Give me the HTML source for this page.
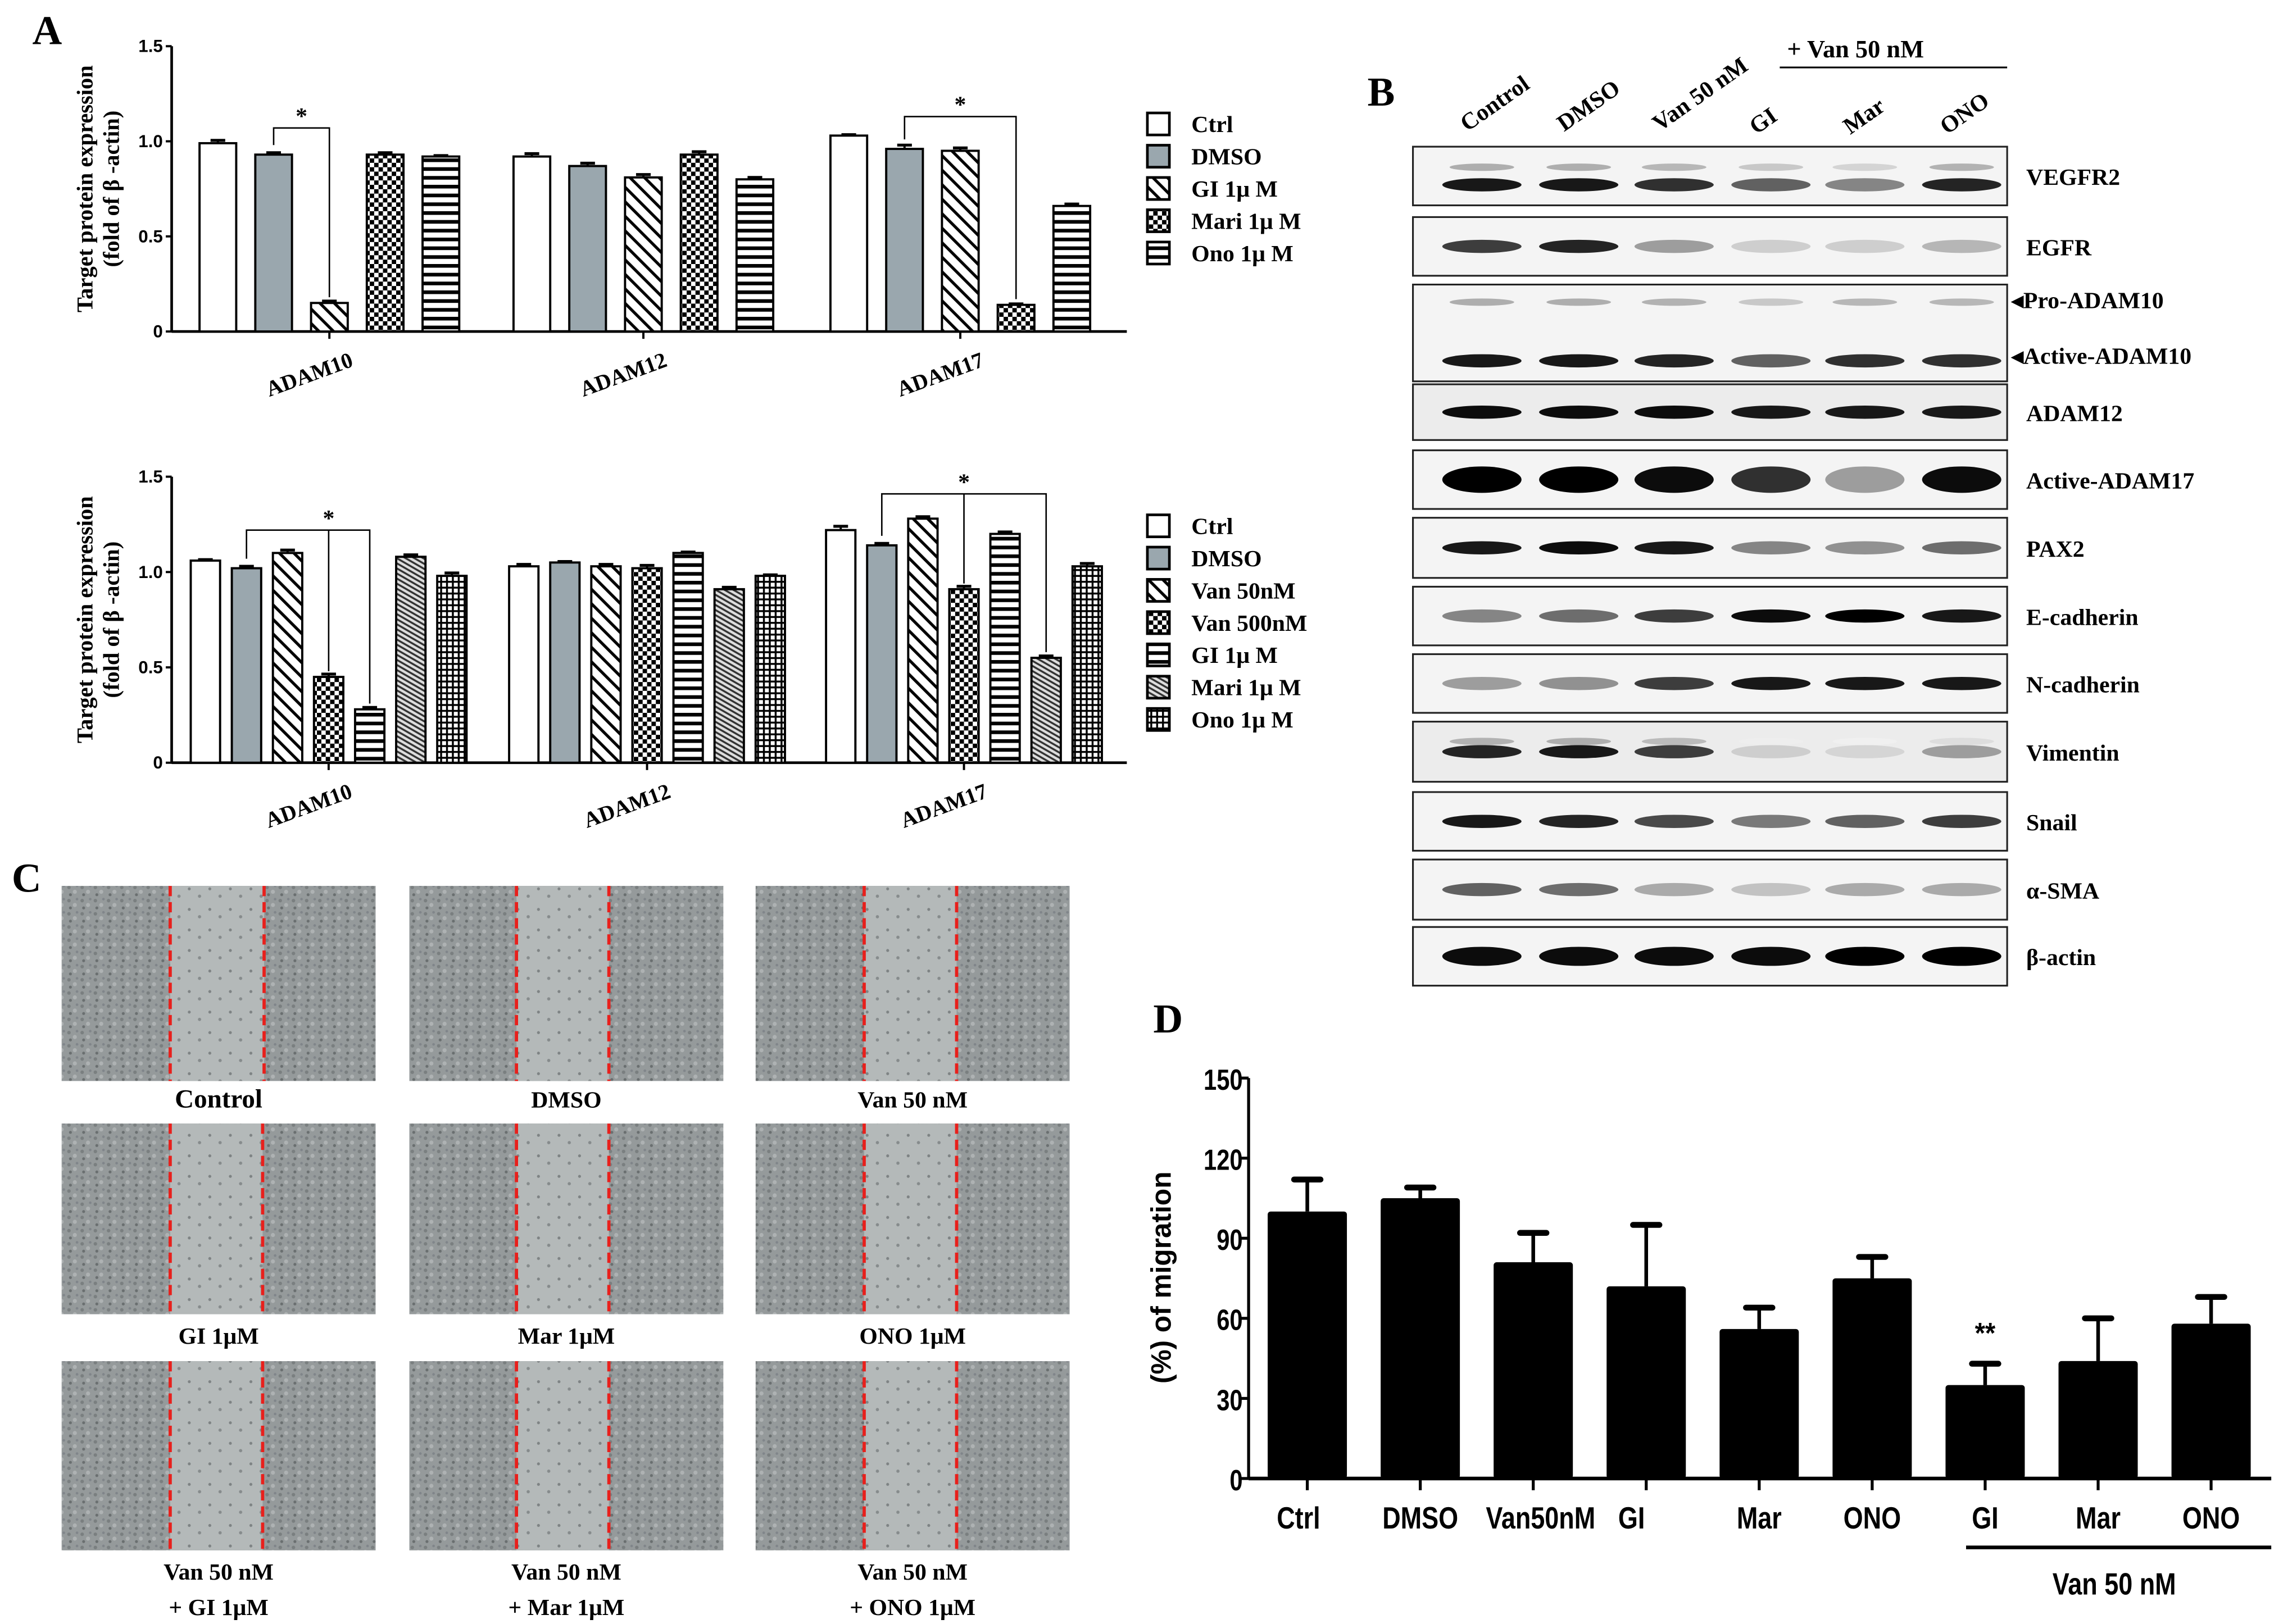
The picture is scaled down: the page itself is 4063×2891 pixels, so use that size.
<!DOCTYPE html>
<html><head><meta charset="utf-8"><style>
html,body{margin:0;padding:0;background:#fff;}
svg{display:block;}
.serif{font-family:"Liberation Serif",serif;font-weight:bold;}
.sans{font-family:"Liberation Sans",sans-serif;font-weight:bold;}
</style></head><body>
<svg id="fig" width="4063" height="2891" viewBox="0 0 1556 1107.2" preserveAspectRatio="none" xmlns="http://www.w3.org/2000/svg">
<defs>
<pattern id="pDiag" patternUnits="userSpaceOnUse" width="7" height="7" patternTransform="rotate(-45)"><rect width="7" height="7" fill="#fff"/><rect x="0" width="2" height="7" fill="#000"/></pattern>
<pattern id="pCheck" patternUnits="userSpaceOnUse" width="6" height="6"><rect width="6" height="6" fill="#fff"/><rect width="3" height="3" fill="#000"/><rect x="3" y="3" width="3" height="3" fill="#000"/></pattern>
<pattern id="pHoriz" patternUnits="userSpaceOnUse" width="6" height="6"><rect width="6" height="6" fill="#fff"/><rect width="6" height="2.5" fill="#000"/></pattern>
<pattern id="pFine" patternUnits="userSpaceOnUse" width="3" height="3" patternTransform="rotate(-60)"><rect width="3" height="3" fill="#ddd"/><rect width="1.3" height="3" fill="#333"/></pattern>
<pattern id="pGrid" patternUnits="userSpaceOnUse" width="4" height="4"><rect width="4" height="4" fill="#fff"/><rect width="4" height="1.3" fill="#000"/><rect width="1.3" height="4" fill="#000"/></pattern>
<pattern id="pCells" patternUnits="userSpaceOnUse" width="9" height="9"><rect width="9" height="9" fill="#959a9b"/><circle cx="2" cy="2" r="1.2" fill="#7a7f80"/><circle cx="6" cy="5" r="1.4" fill="#aeb2b3"/><circle cx="3" cy="7" r="1" fill="#6a6f70"/><circle cx="7.5" cy="1" r="0.9" fill="#80858a"/></pattern>
<pattern id="pGap" patternUnits="userSpaceOnUse" width="14" height="14"><rect width="14" height="14" fill="#b4b9b9"/><circle cx="3" cy="4" r="1" fill="#7e8384"/><circle cx="10" cy="9" r="1.1" fill="#868b8c"/></pattern>
</defs>
<g id="root"></g>
</svg>
<script>
// ---------- Panel A data ----------
const topCats = ["ADAM10","ADAM12","ADAM17"];
const topSeries = ["Ctrl","DMSO","GI 1\u03bc M","Mari 1\u03bc M","Ono 1\u03bc M"];
const topValues = [[0.99,0.93,0.15,0.93,0.92],[0.92,0.87,0.81,0.93,0.80],[1.03,0.96,0.95,0.14,0.66]];
const topErrors = [[0.015,0.01,0.01,0.01,0.005],[0.015,0.015,0.015,0.015,0.01],[0.005,0.02,0.015,0.005,0.01]];
const botSeries = ["Ctrl","DMSO","Van 50nM","Van 500nM","GI 1\u03bc M","Mari 1\u03bc M","Ono 1\u03bc M"];
const botValues = [[1.06,1.02,1.10,0.45,0.28,1.08,0.98],[1.03,1.05,1.03,1.02,1.10,0.91,0.98],[1.22,1.14,1.28,0.91,1.20,0.55,1.03]];
const botErrors = [[0.005,0.01,0.015,0.015,0.01,0.01,0.015],[0.01,0.005,0.01,0.015,0.005,0.01,0.005],[0.02,0.01,0.01,0.015,0.01,0.01,0.015]];
const aTicks = [0,0.5,1.0,1.5];
const aTickLabels = ["0","0.5","1.0","1.5"];
// ---------- Panel D data ----------
const dCats = ["Ctrl","DMSO","Van50nM","GI","Mar","ONO","GI","Mar","ONO"];
const dValues = [100,105,81,72,56,75,35,44,58];
const dErrors = [12,4,11,23,8,8,8,16,10];
const dTicks = [0,30,60,90,120,150];
// ---------- Panel B data ----------
const blotRows = ["VEGFR2","EGFR","ADAM10","ADAM12","Active-ADAM17","PAX2","E-cadherin","N-cadherin","Vimentin","Snail","\u03b1-SMA","\u03b2-actin"];
const blotIntensity = [[0.9,0.9,0.8,0.6,0.45,0.85],[0.75,0.85,0.35,0.15,0.15,0.25],[0.9,0.9,0.85,0.6,0.8,0.8],[0.95,0.95,0.95,0.9,0.9,0.9],[1,1,0.95,0.8,0.35,0.95],[0.9,0.95,0.9,0.45,0.4,0.55],[0.45,0.55,0.75,0.95,1,0.9],[0.35,0.4,0.75,0.9,0.9,0.9],[0.85,0.9,0.75,0.15,0.12,0.35],[0.9,0.85,0.7,0.5,0.6,0.75],[0.6,0.55,0.3,0.2,0.3,0.3],[0.95,0.95,0.95,0.95,1,1]];
const laneLabels = ["Control","DMSO","Van 50 nM","GI","Mar","ONO"];

const NS="http://www.w3.org/2000/svg";
const root=document.getElementById('root');
function el(tag,attrs,parent,text){const e=document.createElementNS(NS,tag);for(const k in attrs)e.setAttribute(k,attrs[k]);if(text!==undefined)e.textContent=text;(parent||root).appendChild(e);return e;}

// ---------- Panel A charts ----------
const topFills=["#fff","#9aa7ae","url(#pDiag)","url(#pCheck)","url(#pHoriz)"];
const botFills=["#fff","#9aa7ae","url(#pDiag)","url(#pCheck)","url(#pHoriz)","url(#pFine)","url(#pGrid)"];
function barChart(cfg){
  const g=el('g',{});
  
  
  const y=v=>cfg.y0-(v/1.5)*(cfg.y0-cfg.y15);
  el('line',{x1:cfg.ax,y1:cfg.y15,x2:cfg.ax,y2:cfg.y0,stroke:'#000','stroke-width':1.8},g);
  el('line',{x1:cfg.ax,y1:cfg.y0,x2:cfg.axEnd,y2:cfg.y0,stroke:'#000','stroke-width':1.8},g);
  aTicks.forEach((t,i)=>{
    el('line',{x1:cfg.ax-4,y1:y(t),x2:cfg.ax,y2:y(t),stroke:'#000','stroke-width':1.5},g);
    const tl=el('text',{x:cfg.ax-6,y:y(t)+4,'text-anchor':'end','font-size':12,class:'sans'},g,aTickLabels[i]);
    
    
  });
  cfg.values.forEach((grp,gi)=>{
    const start=cfg.groupStart[gi];
    grp.forEach((v,si)=>{
      const x=start+si*cfg.step;
      const r=el('rect',{x:x,y:y(v),width:cfg.bw,height:cfg.y0-y(v),fill:cfg.fills[si],stroke:'#000','stroke-width':1.5},g);
      
      
      const ey=y(v+cfg.errors[gi][si]);
      el('line',{x1:x+cfg.bw/2,y1:ey,x2:x+cfg.bw/2,y2:y(v),stroke:'#000','stroke-width':1.5},g);
      el('line',{x1:x+cfg.bw/2-5,y1:ey,x2:x+cfg.bw/2+5,y2:ey,stroke:'#000','stroke-width':2},g);
    });
    const cx=start+(grp.length*cfg.step-(cfg.step-cfg.bw))/2;
    el('line',{x1:cx,y1:cfg.y0,x2:cx,y2:cfg.y0+5,stroke:'#000','stroke-width':1.5},g);
    const lab=el('text',{x:cx-12,y:cfg.y0+34,'text-anchor':'middle','font-size':15,class:'serif',transform:`rotate(-20 ${cx-12} ${cfg.y0+34})`},g,cfg.cats[gi]);
    
    
  });
  const t1=el('text',{x:0,y:0,'text-anchor':'middle','font-size':15.5,class:'serif',transform:`translate(${cfg.ax-54},${(cfg.y0+cfg.y15)/2}) rotate(-90)`},g,'Target protein expression');
  
  
  el('text',{x:0,y:0,'text-anchor':'middle','font-size':15.5,class:'serif',transform:`translate(${cfg.ax-36},${(cfg.y0+cfg.y15)/2}) rotate(-90)`},g,'(fold of \u03b2 -actin)');
  // legend
  cfg.series.forEach((s,i)=>{
    const ly=cfg.legY+i*22;
    const b=el('rect',{x:782,y:ly-7,width:15,height:15,fill:cfg.fills[i],stroke:'#000','stroke-width':1.8},g);
    
    
    const lt=el('text',{x:812,y:ly+6,'font-size':16,class:'serif'},g,s);
    
    
  });
  // brackets
  cfg.brackets.forEach(br=>{
    const x1=cfg.groupStart[br.g]+br.a*cfg.step+cfg.bw/2, x2=cfg.groupStart[br.g]+br.b*cfg.step+cfg.bw/2;
    const by=y(br.h);
    el('polyline',{points:`${x1},${y(cfg.values[br.g][br.a]+0.05)} ${x1},${by} ${x2},${by} ${x2},${y(cfg.values[br.g][br.b]+0.03)}`,fill:'none',stroke:'#000','stroke-width':1},g);
    let sx=(x1+x2)/2;
    if(br.m!==undefined){sx=cfg.groupStart[br.g]+br.m*cfg.step+cfg.bw/2;el('line',{x1:sx,y1:by,x2:sx,y2:y(cfg.values[br.g][br.m]+0.03),stroke:'#000','stroke-width':1},g);}
    const st=el('text',{x:sx,y:by-3,'text-anchor':'middle','font-size':16,class:'serif'},g,'*');
    
    
  });
}
barChart({name:'chart-a-top',ax:117,axEnd:768,y0:226,y15:31.5,bw:25,step:38,groupStart:[136,350,566],values:topValues,errors:topErrors,cats:topCats,series:topSeries,fills:topFills,legY:84,
  brackets:[{g:0,a:1,b:2,h:1.07},{g:2,a:1,b:3,h:1.13}]});
barChart({name:'chart-a-bottom',ax:117,axEnd:768,y0:520,y15:325,bw:20,step:28,groupStart:[130,347,563],values:botValues,errors:botErrors,cats:topCats,series:botSeries,fills:botFills,legY:358,
  brackets:[{g:0,a:1,b:4,m:3,h:1.22},{g:2,a:1,b:5,m:3,h:1.41}]});
const la=el('text',{x:22,y:30,'font-size':28,class:'serif'},root,'A');



// ---------- Panel B ----------
const rowsY=[[100,140],[148,188],[194,260],[262,300],[307,347],[353,394],[400,440],[446,486],[492,533],[540,580],[586,627],[632,672]];
const laneX=[1010,1076,1141,1207,1271,1337];
const gB=el('g',{});


el('text',{x:932,y:72,'font-size':28,class:'serif'},gB,'B');
laneLabels.forEach((l,i)=>{
  const t=el('text',{x:0,y:0,'font-size':16,class:'serif',transform:`translate(${laneX[i]-10},${i>=3?92:90}) rotate(-35)`},gB,l);
  
  
});
el('text',{x:1218,y:39,'font-size':17,class:'serif'},gB,'+ Van 50 nM');
el('line',{x1:1213,y1:46,x2:1368,y2:46,stroke:'#000','stroke-width':1.2},gB);
blotRows.forEach((name,r)=>{
  const [y1,y2]=rowsY[r];
  el('rect',{x:963,y:y1,width:405,height:y2-y1,fill:(r===3||r===8)?'#ececec':'#f4f4f4',stroke:'#222','stroke-width':1.2},gB);
  const bandY = r===2 ? y2-14 : (y1+y2)/2+ (r===0?6:0);
  blotIntensity[r].forEach((v,i)=>{
    const c=Math.round(255*(1-v)*0.95);
    const e=el('ellipse',{cx:laneX[i],cy:bandY,rx:27,ry:r===4?9:(r===11?6.5:4.5),fill:`rgb(${c},${c},${c})`},gB);
    
    
    if(r===2||r===0||r===8){const c2=Math.round(255-(255-c)*0.35);el('ellipse',{cx:laneX[i],cy:r===2?y1+12:bandY-12+(r===8?5:0),rx:22,ry:2.5,fill:`rgb(${c2},${c2},${c2})`},gB);}
  });
  if(r===2){
    el('text',{x:1371,y:210,'font-size':16,class:'serif'},gB,'\u25c2Pro-ADAM10');
    el('text',{x:1371,y:248,'font-size':16,class:'serif'},gB,'\u25c2Active-ADAM10');
  } else {
    const t=el('text',{x:1381,y:(y1+y2)/2+6,'font-size':16,class:'serif'},gB,name);
    
    
  }
});

// ---------- Panel C ----------
const gC=el('g',{});


el('text',{x:8,y:608,'font-size':28,class:'serif'},gC,'C');
const cCols=[42,279,515], cRows=[[604,737],[766,896],[928,1057]];
const cGaps=[[[74,138],[73,136],[74,137]],[[74,137],[73,136],[74,137]],[[74,137],[73,136],[74,137]]];
const cLabels=[["Control","DMSO","Van 50 nM"],["GI 1\u03bcM","Mar 1\u03bcM","ONO 1\u03bcM"],[["Van 50 nM","+ GI 1\u03bcM"],["Van 50 nM","+ Mar 1\u03bcM"],["Van 50 nM","+ ONO 1\u03bcM"]]];
cRows.forEach((ry,ri)=>{cCols.forEach((cx,ci)=>{
  const img=el('rect',{x:cx,y:ry[0],width:214,height:ry[1]-ry[0],fill:'url(#pCells)'},gC);
  
  
  const g=cGaps[ri][ci];
  el('rect',{x:cx+g[0],y:ry[0],width:g[1]-g[0],height:ry[1]-ry[0],fill:'url(#pGap)'},gC);
  [g[0],g[1]].forEach(dx=>el('line',{x1:cx+dx,y1:ry[0],x2:cx+dx,y2:ry[1],stroke:'#e8201c','stroke-width':2.2,'stroke-dasharray':'7,4'},gC));
  const lab=cLabels[ri][ci];
  if(Array.isArray(lab)){
    el('text',{x:cx+107,y:ry[1]+20,'text-anchor':'middle','font-size':16,class:'serif'},gC,lab[0]);
    el('text',{x:cx+107,y:ry[1]+44,'text-anchor':'middle','font-size':16,class:'serif'},gC,lab[1]);
  } else {
    const t=el('text',{x:cx+107,y:ry[1]+ (ri===0?18:20),'text-anchor':'middle','font-size':ri===0&&ci===0?18:16,class:'serif'},gC,lab);
    
    
  }
});});

// ---------- Panel D ----------
const gD=el('g',{});


el('text',{x:786,y:704,'font-size':28,class:'serif'},gD,'D');
const dAx=851,dY0=1008,dYTop=735,dStep=77,dX0=891,dBw=54;
const dy=v=>dY0-v/150*(dY0-dYTop);
el('line',{x1:dAx,y1:dYTop,x2:dAx,y2:dY0,stroke:'#000','stroke-width':2},gD);
el('line',{x1:dAx,y1:dY0,x2:1548,y2:dY0,stroke:'#000','stroke-width':2.5},gD);
dTicks.forEach(t=>{
  el('line',{x1:dAx-5,y1:dy(t),x2:dAx,y2:dy(t),stroke:'#000','stroke-width':2},gD);
  const tl=el('text',{x:dAx-4,y:dy(t)+8,'text-anchor':'end','font-size':20,class:'sans',transform:`translate(${dAx-4},0) scale(0.8,1) translate(${-(dAx-4)},0)`},gD,String(t));
  
  
});
dValues.forEach((v,i)=>{
  const cx=dX0+i*dStep;
  const ey=dy(v+dErrors[i]);
  el('line',{x1:cx,y1:ey,x2:cx,y2:dy(v),stroke:'#000','stroke-width':2.5},gD);
  el('line',{x1:cx-9,y1:ey,x2:cx+9,y2:ey,stroke:'#000','stroke-width':4,'stroke-linecap':'round'},gD);
  const b=el('rect',{x:cx-dBw/2,y:dy(v),width:dBw,height:dY0-dy(v),fill:'#000',rx:2},gD);
  
  
  el('line',{x1:cx,y1:dY0,x2:cx,y2:dY0+8,stroke:'#000','stroke-width':2},gD);
  const lx = i===2 ? cx+5 : (i===3 ? cx-10 : (i===0? cx-6 : cx));
  const t=el('text',{x:0,y:0,'text-anchor':'middle','font-size':21,class:'sans',transform:`translate(${lx},1042) scale(0.82,1)`},gD,dCats[i]);
  
  
});
el('text',{x:0,y:0,'text-anchor':'middle','font-size':20,class:'sans',transform:`translate(${dX0+6*dStep},${dy(dValues[6]+dErrors[6])-14}) scale(0.9,1)`},gD,'**');
el('line',{x1:1340,y1:1055,x2:1548,y2:1055,stroke:'#000','stroke-width':2.5},gD);
el('text',{x:0,y:0,'text-anchor':'middle','font-size':21,class:'sans',transform:`translate(1441,1087) scale(0.82,1)`},gD,'Van 50 nM');
const yt=el('text',{x:0,y:0,'text-anchor':'middle','font-size':19,class:'sans',transform:`translate(798,871) rotate(-90)`},gD,'(%) of migration');


</script>
</body></html>
